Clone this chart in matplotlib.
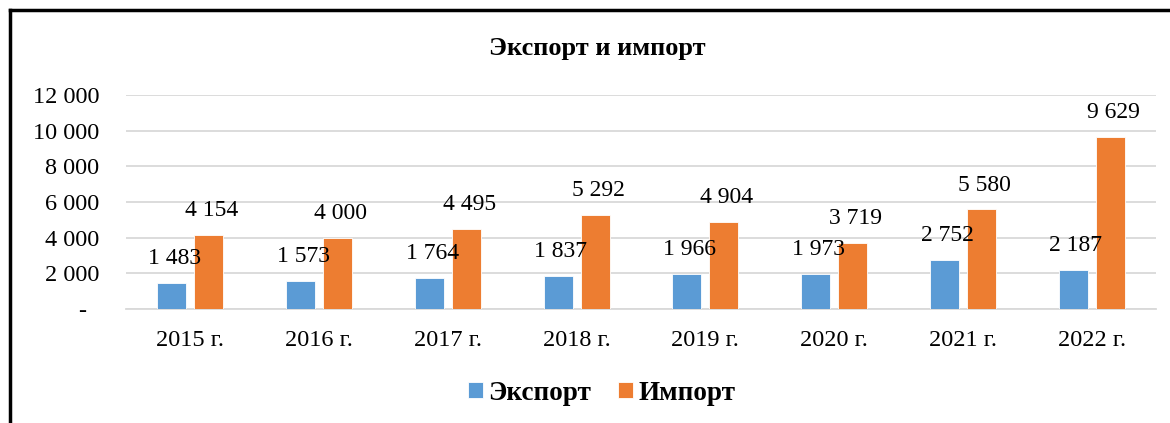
import matplotlib.pyplot as plt
import numpy as np

years = ['2015 г.', '2016 г.', '2017 г.', '2018 г.', '2019 г.', '2020 г.', '2021 г.', '2022 г.']
export = [1483, 1573, 1764, 1837, 1966, 1973, 2752, 2187]
imports = [4154, 4000, 4495, 5292, 4904, 3719, 5580, 9629]

plt.rcParams['font.family'] = ['Liberation Serif', 'DejaVu Serif']

def fmt(v):
    return '{:,}'.format(v).replace(',', ' ')

fig = plt.figure(figsize=(11.7, 4.23), dpi=100)
ax = fig.add_axes([126 / 1170, 1 - 309 / 423, 1030 / 1170, (309 - 95) / 423])

x = np.arange(len(years))
w = 0.225
off = 0.144
b1 = ax.bar(x - off, export, w, color='#5B9BD5', edgecolor='white', linewidth=0.6, label='Экспорт', zorder=3)
b2 = ax.bar(x + off, imports, w, color='#ED7D31', edgecolor='white', linewidth=0.6, label='Импорт', zorder=3)

for xi, v in zip(x, export):
    ax.annotate(fmt(v), (xi - off, v), xytext=(2, 10), textcoords='offset points',
                ha='center', va='bottom', fontsize=17)
for xi, v in zip(x, imports):
    ax.annotate(fmt(v), (xi + off, v), xytext=(2, 10), textcoords='offset points',
                ha='center', va='bottom', fontsize=17)

ax.set_xlim(-0.5, len(years) - 0.5)
ax.set_ylim(0, 12000)
yt = np.arange(0, 12001, 2000)
ax.set_yticks(yt)
ax.set_yticklabels(['-  '] + [fmt(v) for v in yt[1:]], fontsize=17.5)
ax.set_xticks(x)
ax.set_xticklabels(years, fontsize=17.5)
ax.tick_params(axis='y', length=0, pad=19)
ax.tick_params(axis='x', length=0, pad=15)
ax.grid(axis='y', color='#D9D9D9', linewidth=1.3, zorder=0)
for s in ['top', 'right', 'left']:
    ax.spines[s].set_visible(False)
ax.spines['bottom'].set_color('#D9D9D9')
ax.spines['bottom'].set_linewidth(1.3)

fig.text(597 / 1170, 1 - 48 / 423, 'Экспорт и импорт', ha='center', va='center',
         fontsize=19, fontweight='bold')

fig.legend(handles=[b1, b2], loc='center', bbox_to_anchor=(602 / 1170, 1 - 393 / 423),
           ncol=2, frameon=False, prop={'size': 19.5, 'weight': 'bold'},
           handlelength=0.55, handleheight=0.55, handletextpad=0.2, columnspacing=1.0)

# frame lines on the left and top
fig.add_artist(plt.Line2D([10 / 1170, 10 / 1170], [0, 1 - 10 / 423], color='black', linewidth=2.5))
fig.add_artist(plt.Line2D([10 / 1170, 1], [1 - 10 / 423, 1 - 10 / 423], color='black', linewidth=2.5))

fig.savefig('out.png', dpi=100)
